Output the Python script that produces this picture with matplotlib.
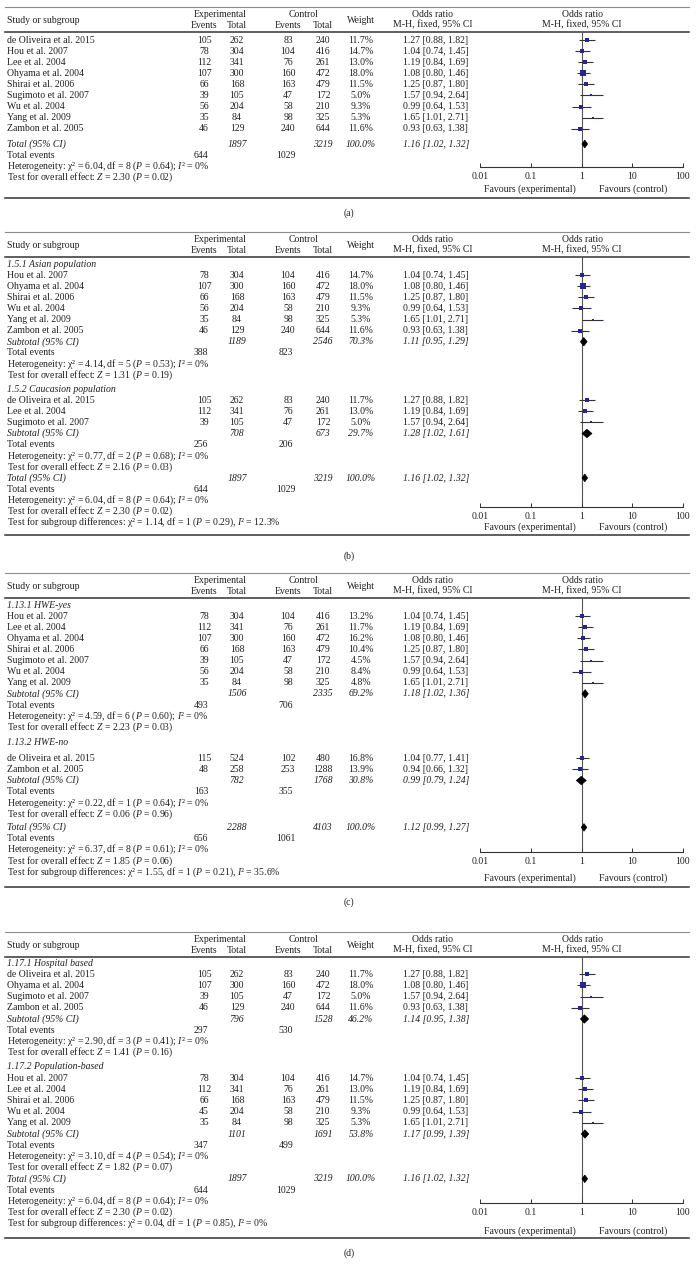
import numpy as np
import matplotlib.pyplot as plt
from matplotlib.patches import Polygon

plt.rcParams['font.family'] = ['Liberation Serif', 'DejaVu Serif']
plt.rcParams['mathtext.fontset'] = 'custom'
plt.rcParams['mathtext.rm'] = 'Liberation Serif'
plt.rcParams['mathtext.it'] = 'Liberation Serif:italic'

W, H = 698, 1275
INK = '#231f20'
BLUE = '#25259a'

# ---------------- (a) all studies ----------------
a_study = ["de Oliveira et al. 2015", "Hou et al. 2007", "Lee et al. 2004", "Ohyama et al. 2004",
           "Shirai et al. 2006", "Sugimoto et al. 2007", "Wu et al. 2004", "Yang et al. 2009",
           "Zambon et al. 2005"]
a_exp_ev = [105, 78, 112, 107, 66, 39, 56, 35, 46]
a_exp_tot = [262, 304, 341, 300, 168, 105, 204, 84, 129]
a_ctl_ev = [83, 104, 76, 160, 163, 47, 58, 98, 240]
a_ctl_tot = [240, 416, 261, 472, 479, 172, 210, 325, 644]
a_weight = [11.7, 14.7, 13.0, 18.0, 11.5, 5.0, 9.3, 5.3, 11.6]
a_or = [1.27, 1.04, 1.19, 1.08, 1.25, 1.57, 0.99, 1.65, 0.93]
a_lo = [0.88, 0.74, 0.84, 0.80, 0.87, 0.94, 0.64, 1.01, 0.63]
a_hi = [1.82, 1.45, 1.69, 1.46, 1.80, 2.64, 1.53, 2.71, 1.38]
a_group = [0, 0, 0, 0, 0, 0, 0, 0, 0]
a_tot_n = [1897, 3219]
a_tot_ev = [644, 1029]
a_tot_est = [1.16, 1.02, 1.32]
a_tot_het = [6.04, 8, 0.64, 0]
a_tot_z = [2.30, 0.02]

# ---------------- (b) by ethnicity ----------------
b_study = ["Hou et al. 2007", "Ohyama et al. 2004", "Shirai et al. 2006", "Wu et al. 2004",
           "Yang et al. 2009", "Zambon et al. 2005",
           "de Oliveira et al. 2015", "Lee et al. 2004", "Sugimoto et al. 2007"]
b_exp_ev = [78, 107, 66, 56, 35, 46, 105, 112, 39]
b_exp_tot = [304, 300, 168, 204, 84, 129, 262, 341, 105]
b_ctl_ev = [104, 160, 163, 58, 98, 240, 83, 76, 47]
b_ctl_tot = [416, 472, 479, 210, 325, 644, 240, 261, 172]
b_weight = [14.7, 18.0, 11.5, 9.3, 5.3, 11.6, 11.7, 13.0, 5.0]
b_or = [1.04, 1.08, 1.25, 0.99, 1.65, 0.93, 1.27, 1.19, 1.57]
b_lo = [0.74, 0.80, 0.87, 0.64, 1.01, 0.63, 0.88, 0.84, 0.94]
b_hi = [1.45, 1.46, 1.80, 1.53, 2.71, 1.38, 1.82, 1.69, 2.64]
b_group = [0, 0, 0, 0, 0, 0, 1, 1, 1]
b_sub_name = ["1.5.1 Asian population", "1.5.2 Caucasion population"]
b_sub_n = [[1189, 2546], [708, 673]]
b_sub_ev = [[388, 823], [256, 206]]
b_sub_w = [70.3, 29.7]
b_sub_est = [[1.11, 0.95, 1.29], [1.28, 1.02, 1.61]]
b_sub_het = [[4.14, 5, 0.53, 0], [0.77, 2, 0.68, 0]]
b_sub_z = [[1.31, 0.19], [2.16, 0.03]]
b_tot_n = [1897, 3219]
b_tot_ev = [644, 1029]
b_tot_est = [1.16, 1.02, 1.32]
b_tot_het = [6.04, 8, 0.64, 0]
b_tot_z = [2.30, 0.02]
b_diff = [1.14, 1, 0.29, 12.3]

# ---------------- (c) by HWE ----------------
c_study = ["Hou et al. 2007", "Lee et al. 2004", "Ohyama et al. 2004", "Shirai et al. 2006",
           "Sugimoto et al. 2007", "Wu et al. 2004", "Yang et al. 2009",
           "de Oliveira et al. 2015", "Zambon et al. 2005"]
c_exp_ev = [78, 112, 107, 66, 39, 56, 35, 115, 48]
c_exp_tot = [304, 341, 300, 168, 105, 204, 84, 524, 258]
c_ctl_ev = [104, 76, 160, 163, 47, 58, 98, 102, 253]
c_ctl_tot = [416, 261, 472, 479, 172, 210, 325, 480, 1288]
c_weight = [13.2, 11.7, 16.2, 10.4, 4.5, 8.4, 4.8, 16.8, 13.9]
c_or = [1.04, 1.19, 1.08, 1.25, 1.57, 0.99, 1.65, 1.04, 0.94]
c_lo = [0.74, 0.84, 0.80, 0.87, 0.94, 0.64, 1.01, 0.77, 0.66]
c_hi = [1.45, 1.69, 1.46, 1.80, 2.64, 1.53, 2.71, 1.41, 1.32]
c_group = [0, 0, 0, 0, 0, 0, 0, 1, 1]
c_sub_name = ["1.13.1 HWE-yes", "1.13.2 HWE-no"]
c_sub_n = [[1506, 2335], [782, 1768]]
c_sub_ev = [[493, 706], [163, 355]]
c_sub_w = [69.2, 30.8]
c_sub_est = [[1.18, 1.02, 1.36], [0.99, 0.79, 1.24]]
c_sub_het = [[4.59, 6, 0.60, 0], [0.22, 1, 0.64, 0]]
c_sub_z = [[2.23, 0.03], [0.06, 0.96]]
c_tot_n = [2288, 4103]
c_tot_ev = [656, 1061]
c_tot_est = [1.12, 0.99, 1.27]
c_tot_het = [6.37, 8, 0.61, 0]
c_tot_z = [1.85, 0.06]
c_diff = [1.55, 1, 0.21, 35.6]

# ---------------- (d) by source of controls ----------------
d_study = ["de Oliveira et al. 2015", "Ohyama et al. 2004", "Sugimoto et al. 2007", "Zambon et al. 2005",
           "Hou et al. 2007", "Lee et al. 2004", "Shirai et al. 2006", "Wu et al. 2004", "Yang et al. 2009"]
d_exp_ev = [105, 107, 39, 46, 78, 112, 66, 45, 35]
d_exp_tot = [262, 300, 105, 129, 304, 341, 168, 204, 84]
d_ctl_ev = [83, 160, 47, 240, 104, 76, 163, 58, 98]
d_ctl_tot = [240, 472, 172, 644, 416, 261, 479, 210, 325]
d_weight = [11.7, 18.0, 5.0, 11.6, 14.7, 13.0, 11.5, 9.3, 5.3]
d_or = [1.27, 1.08, 1.57, 0.93, 1.04, 1.19, 1.25, 0.99, 1.65]
d_lo = [0.88, 0.80, 0.94, 0.63, 0.74, 0.84, 0.87, 0.64, 1.01]
d_hi = [1.82, 1.46, 2.64, 1.38, 1.45, 1.69, 1.80, 1.53, 2.71]
d_group = [0, 0, 0, 0, 1, 1, 1, 1, 1]
d_sub_name = ["1.17.1 Hospital based", "1.17.2 Population-based"]
d_sub_n = [[796, 1528], [1101, 1691]]
d_sub_ev = [[297, 530], [347, 499]]
d_sub_w = [46.2, 53.8]
d_sub_est = [[1.14, 0.95, 1.38], [1.17, 0.99, 1.39]]
d_sub_het = [[2.90, 3, 0.41, 0], [3.10, 4, 0.54, 0]]
d_sub_z = [[1.41, 0.16], [1.82, 0.07]]
d_tot_n = [1897, 3219]
d_tot_ev = [644, 1029]
d_tot_est = [1.16, 1.02, 1.32]
d_tot_het = [6.04, 8, 0.64, 0]
d_tot_z = [2.30, 0.02]
d_diff = [0.04, 1, 0.85, 0]

ticks = [0.01, 0.1, 1, 10, 100]
tick_labels = ["0.01", "0.1", "1", "10", "100"]

# column positions (pixels)
X_NAME, X_EEV, X_ETOT, X_CEV, X_CTOT, X_W, X_OR = 7, 204, 237, 288, 323, 361, 403
X_PLOT0, X_PLOT1 = 480, 683
FS = 7

fig = plt.figure(figsize=(W / 100, H / 100), dpi=100)
tx = fig.add_axes([0, 0, 1, 1])
tx.set_xlim(0, W)
tx.set_ylim(H, 0)
tx.axis('off')


def put(x, y, s, ha='left', it=False):
    tx.text(x, y + 2.6, s, ha=ha, va='baseline', fontsize=FS, color=INK,
            style='italic' if it else 'normal')


def het_str(h):
    return ("Heterogeneity: χ² = %.2f, df = %d ($P$ = %.2f); $I$² = %g%%"
            % (h[0], h[1], h[2], h[3]))


def z_str(z):
    return "Test for overall effect: $Z$ = %.2f ($P$ = %.2f)" % (z[0], z[1])


def diff_str(d):
    return ("Test for subgroup differences: χ² = %.2f, df = %d ($P$ = %.2f), $I$² = %g%%"
            % (d[0], d[1], d[2], d[3]))


def est_str(e):
    return "%.2f [%.2f, %.2f]" % (e[0], e[1], e[2])


def diamond(ax, e, y, hh=3.8):
    ax.add_patch(Polygon([(e[1], y), (e[0], y - hh), (e[2], y), (e[0], y + hh)],
                         closed=True, facecolor='black', edgecolor='black', lw=0.5, zorder=4))


def draw_panel(p, lay):
    top = lay['top']
    under = top + 25
    tx.plot([5, 689], [top, top], color='#8c8c8c', lw=0.8)
    tx.plot([5, 689], [under, under], color='#333333', lw=1.1)
    tx.plot([5, 689], [lay['bottom'], lay['bottom']], color='#333333', lw=1.1)

    # header
    put(X_NAME, top + 13, "Study or subgroup")
    put(220, top + 7, "Experimental", ha='center')
    put(X_EEV, top + 18, "Events", ha='center')
    put(X_ETOT, top + 18, "Total", ha='center')
    put(304, top + 7, "Control", ha='center')
    put(X_CEV, top + 18, "Events", ha='center')
    put(X_CTOT, top + 18, "Total", ha='center')
    put(X_W, top + 13, "Weight", ha='center')
    put(433, top + 7, "Odds ratio", ha='center')
    put(433, top + 18, "M-H, fixed, 95% CI", ha='center')
    put(582, top + 7, "Odds ratio", ha='center')
    put(582, top + 18, "M-H, fixed, 95% CI", ha='center')

    # build rows
    rows = []
    ngroups = max(p['group']) + 1
    sub = 'sub_name' in p
    for g in range(ngroups):
        if sub:
            rows.append(('group', g))
        for i, gi in enumerate(p['group']):
            if gi == g:
                rows.append(('study', i))
        if sub:
            rows += [('sub', g), ('subev', g), ('subhet', g), ('subz', g)]
    rows += [('total', None), ('totev', None), ('tothet', None), ('totz', None)]
    if sub:
        rows.append(('diff', None))

    ys = []
    y = lay['first']
    prev = None
    gcount = 0
    for kind, k in rows:
        if prev is not None:
            y += lay['step']
            if kind == 'group' and k > 0:
                y += lay['g_gap']
            if kind == 'total':
                y += lay['t_gap']
            if kind == 'study' and prev == 'group' and gcount > 0:
                y += lay.get('after_g', 0)
        if kind == 'group':
            gcount = k
        ys.append(y)
        prev = kind

    # forest axes
    ay = lay['axis']
    ax = fig.add_axes([X_PLOT0 / W, 1 - ay / H, (X_PLOT1 - X_PLOT0) / W, (ay - under) / H])
    ax.set_xscale('log')
    ax.set_xlim(0.01, 100)
    ax.set_ylim(ay, under)
    ax.patch.set_visible(False)
    for s in ['top', 'left', 'right']:
        ax.spines[s].set_visible(False)
    ax.spines['bottom'].set_color('#333333')
    ax.spines['bottom'].set_linewidth(0.8)
    ax.set_yticks([])
    ax.set_xticks(ticks)
    ax.set_xticklabels(tick_labels, fontsize=FS, color=INK)
    ax.minorticks_off()
    ax.tick_params(axis='x', direction='in', length=3, width=0.7, pad=3.6, color='#333333')
    ax.axvline(1, color='#555555', lw=0.8, zorder=1)

    for (kind, k), y in zip(rows, ys):
        if kind == 'group':
            put(X_NAME, y, p['sub_name'][k], it=True)
        elif kind == 'study':
            put(X_NAME, y, p['study'][k])
            put(X_EEV, y, str(p['exp_ev'][k]), ha='center')
            put(X_ETOT, y, str(p['exp_tot'][k]), ha='center')
            put(X_CEV, y, str(p['ctl_ev'][k]), ha='center')
            put(X_CTOT, y, str(p['ctl_tot'][k]), ha='center')
            put(X_W, y, "%.1f%%" % p['weight'][k], ha='center')
            put(X_OR, y, est_str([p['or'][k], p['lo'][k], p['hi'][k]]))
            ax.plot([p['lo'][k], p['hi'][k]], [y, y], color='#333333', lw=0.8, zorder=2,
                    solid_capstyle='butt')
            side = 1.2 * np.sqrt(p['weight'][k])
            ax.plot(p['or'][k], y, marker='s', ms=side * 0.72, color=BLUE, mec=BLUE,
                    mew=0, zorder=3)
        elif kind == 'sub':
            put(X_NAME, y, "Subtotal (95% CI)", it=True)
            put(X_ETOT, y, str(p['sub_n'][k][0]), ha='center', it=True)
            put(X_CTOT, y, str(p['sub_n'][k][1]), ha='center', it=True)
            put(X_W, y, "%.1f%%" % p['sub_w'][k], ha='center', it=True)
            put(X_OR, y, est_str(p['sub_est'][k]), it=True)
            diamond(ax, p['sub_est'][k], y, 4.2)
        elif kind == 'subev':
            put(X_NAME, y, "Total events")
            put(X_EEV - 3, y, str(p['sub_ev'][k][0]), ha='center')
            put(X_CEV - 2, y, str(p['sub_ev'][k][1]), ha='center')
        elif kind == 'subhet':
            put(X_NAME, y, het_str(p['sub_het'][k]))
        elif kind == 'subz':
            put(X_NAME, y, z_str(p['sub_z'][k]))
        elif kind == 'total':
            put(X_NAME, y, "Total (95% CI)", it=True)
            put(X_ETOT, y, str(p['tot_n'][0]), ha='center', it=True)
            put(X_CTOT, y, str(p['tot_n'][1]), ha='center', it=True)
            put(X_W, y, "100.0%", ha='center', it=True)
            put(X_OR, y, est_str(p['tot_est']), it=True)
            diamond(ax, p['tot_est'], y, 3.8)
        elif kind == 'totev':
            put(X_NAME, y, "Total events")
            put(X_EEV - 3, y, str(p['tot_ev'][0]), ha='center')
            put(X_CEV - 2, y, str(p['tot_ev'][1]), ha='center')
        elif kind == 'tothet':
            put(X_NAME, y, het_str(p['tot_het']))
        elif kind == 'totz':
            put(X_NAME, y, z_str(p['tot_z']))
        elif kind == 'diff':
            put(X_NAME, y, diff_str(p['diff']))

    put(530, lay['fav'], "Favours (experimental)", ha='center')
    put(633, lay['fav'], "Favours (control)", ha='center')
    put(349, lay['label'], "(%s)" % lay['tag'], ha='center')


def panel(prefix):
    g = globals()
    keys = ['study', 'exp_ev', 'exp_tot', 'ctl_ev', 'ctl_tot', 'weight', 'or', 'lo', 'hi', 'group',
            'tot_n', 'tot_ev', 'tot_est', 'tot_het', 'tot_z',
            'sub_name', 'sub_n', 'sub_ev', 'sub_w', 'sub_est', 'sub_het', 'sub_z', 'diff']
    return {k: g[prefix + '_' + k] for k in keys if prefix + '_' + k in g}


layouts = {
    'a': dict(tag='a', top=7, first=40, step=11.1, g_gap=0, t_gap=4.1,
              axis=167, fav=189, bottom=198, label=213),
    'b': dict(tag='b', top=232, first=264, step=11.1, g_gap=3, t_gap=0,
              axis=507, fav=527, bottom=535, label=556),
    'c': dict(tag='c', top=573, first=605, step=11.1, g_gap=4, after_g=5, t_gap=2.5,
              axis=852, fav=878, bottom=887, label=902),
    'd': dict(tag='d', top=932, first=963, step=11.2, g_gap=3, t_gap=0,
              axis=1203, fav=1231, bottom=1238, label=1253),
}

for key in ['a', 'b', 'c', 'd']:
    draw_panel(panel(key), layouts[key])

fig.savefig('out.png', dpi=100)
